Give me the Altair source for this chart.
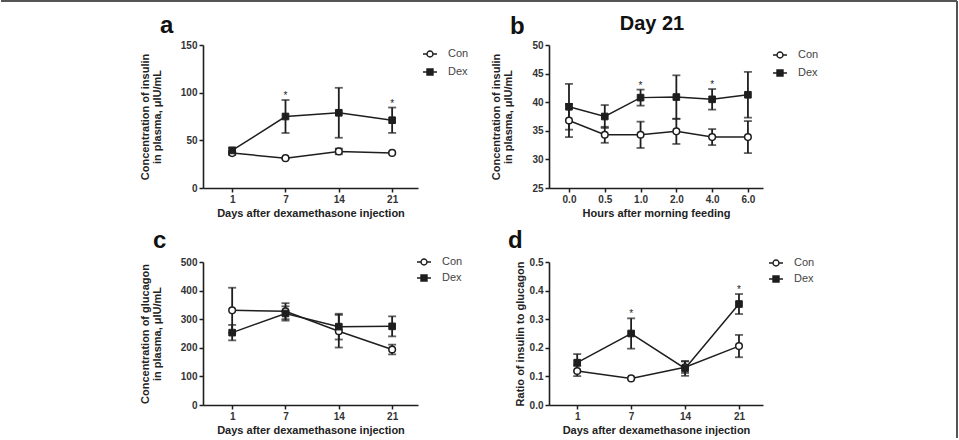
import altair as alt
import pandas as pd

INK = "#1e1e1e"
FONT = "Liberation Sans"

days = ["1", "7", "14", "21"]
hours = ["0.0", "0.5", "1.0", "2.0", "4.0", "6.0"]
groups = ["Con", "Dex"]

# (a) plasma insulin, µIU/mL, by day after injection (mean, SEM)
ins_con = [36.6, 31.3, 38.4, 36.8]
ins_con_sem = [2.0, 0.6, 3.0, 0.8]
ins_dex = [39.4, 75.0, 78.9, 71.1]
ins_dex_sem = [3.0, 17.3, 26.2, 13.3]
ins_sig = [False, True, False, True]

# (b) plasma insulin on day 21, by hour after morning feeding
day21_con = [36.8, 34.3, 34.3, 34.9, 33.9, 33.9]
day21_con_sem = [2.9, 1.4, 2.3, 2.2, 1.4, 2.8]
day21_dex = [39.2, 37.5, 40.8, 40.9, 40.5, 41.3]
day21_dex_sem = [4.0, 2.0, 1.4, 3.8, 1.8, 4.0]
day21_sig = [False, False, True, False, True, False]

# (c) plasma glucagon by day
glu_con = [331, 328, 258, 194]
glu_con_sem = [79, 28, 57, 17]
glu_dex = [253, 320, 274, 275]
glu_dex_sem = [27, 25, 45, 35]
glu_sig = [False, False, False, False]

# (d) insulin / glucagon ratio by day
ratio_con = [0.119, 0.093, 0.132, 0.206]
ratio_con_sem = [0.018, 0.003, 0.02, 0.039]
ratio_dex = [0.148, 0.250, 0.128, 0.353]
ratio_dex_sem = [0.030, 0.053, 0.026, 0.035]
ratio_sig = [False, True, False, True]

# legend keys: a short line with the group's marker in the middle
CON_KEY = "M-1,0H-0.43M0.43,0H1M-0.43,0A0.43,0.43 0 1,1 0.43,0A0.43,0.43 0 1,1 -0.43,0Z"
DEX_KEY = "M-1,0H-0.43M0.43,0H1M-0.43,-0.43H0.43V0.43H-0.43Z"


def table(xs, con_m, con_s, dex_m, dex_s, sig):
    rows = []
    for g, m, s in (("Con", con_m, con_s), ("Dex", dex_m, dex_s)):
        for i, x in enumerate(xs):
            rows.append(dict(x=x, group=g, mean=m[i], lo=m[i] - s[i], hi=m[i] + s[i],
                             sig=bool(sig[i]) and g == "Dex"))
    return pd.DataFrame(rows)


def label(text, x, y, size, align="left"):
    return alt.Chart(pd.DataFrame({"t": [text]})).mark_text(
        font=FONT, fontSize=size, fontWeight="bold", align=align, baseline="alphabetic",
        color="#111").encode(text="t:N", x=alt.value(x), y=alt.value(y))


def panel(df, xs, width, height, pad, align, ydom, yvals, yfmt, ytitle, ytpad,
          xtitle, leg_x, leg_y, row_pad, letter, letter_x, letter_y, extra=()):
    xscale = alt.Scale(type="point", padding=pad, align=align)
    xaxis = alt.Axis(title=xtitle, labelAngle=0, titlePadding=3)
    yscale = alt.Scale(domain=ydom, nice=False, zero=False)
    yaxis = alt.Axis(title=ytitle, values=yvals, format=yfmt, titlePadding=ytpad,
                     titleLineHeight=12)
    X = alt.X("x:O", sort=xs, scale=xscale, axis=xaxis)

    def Y(f):
        return alt.Y(f + ":Q", scale=yscale, axis=yaxis)

    base = alt.Chart(df)
    line = base.mark_line(color=INK, strokeWidth=1.5).encode(
        x=X, y=Y("mean"), detail="group:N")
    bars = base.mark_rule(color=INK, strokeWidth=1.8).encode(x=X, y=Y("lo"), y2="hi:Q")
    cap_lo = base.mark_tick(orient="horizontal", size=8, thickness=1.8, color=INK).encode(
        x=X, y=Y("lo"))
    cap_hi = base.mark_tick(orient="horizontal", size=8, thickness=1.8, color=INK).encode(
        x=X, y=Y("hi"))
    con = base.transform_filter(alt.datum.group == "Con").mark_point(
        shape="circle", filled=True, fill="white", stroke=INK, strokeWidth=1.5,
        size=44, opacity=1).encode(x=X, y=Y("mean"))
    dex = base.transform_filter(alt.datum.group == "Dex").mark_point(
        shape="square", filled=True, fill=INK, stroke=INK, strokeWidth=1,
        size=44, opacity=1).encode(x=X, y=Y("mean"))
    stars = base.transform_filter(alt.datum.sig).mark_text(
        text="*", font=FONT, fontSize=10, dy=-1, baseline="alphabetic", color=INK
    ).encode(x=X, y=Y("hi"))

    leg = alt.Legend(title=None, orient="none", legendX=leg_x, legendY=leg_y,
                     rowPadding=row_pad, symbolSize=196, labelOffset=10,
                     labelFont=FONT, labelFontSize=11, labelColor="#444",
                     padding=0, symbolStrokeWidth=1.4)
    key = base.transform_filter("false").mark_point(
        filled=True, strokeWidth=1.4, opacity=1).encode(
        shape=alt.Shape("group:N", scale=alt.Scale(domain=groups, range=[CON_KEY, DEX_KEY]),
                        legend=leg),
        fill=alt.Fill("group:N", scale=alt.Scale(domain=groups, range=["white", INK]),
                      legend=leg),
        stroke=alt.Stroke("group:N", scale=alt.Scale(domain=groups, range=[INK, INK]),
                          legend=leg),
    )
    tag = label(letter, letter_x, letter_y, 24)

    return alt.layer(line, bars, cap_lo, cap_hi, con, dex, stars, key, tag, *extra).properties(
        width=width, height=height)


one = pd.DataFrame({"k": [0]})
border_top = alt.Chart(one).mark_rule(color="#555", strokeWidth=2).encode(
    x=alt.value(-202), x2=alt.value(754), y=alt.value(-44))
border_right = alt.Chart(one).mark_rule(color="#555", strokeWidth=2).encode(
    x=alt.value(754), y=alt.value(-44), y2=alt.value(393))

DAYS_TITLE = "Days after dexamethasone injection"

pa = panel(table(days, ins_con, ins_con_sem, ins_dex, ins_dex_sem, ins_sig), days,
           215, 143, 0.516, 0.53, [0, 150], [0, 50, 100, 150], "d",
           ["Concentration of insulin", "in plasma, μIU/mL"], 18, DAYS_TITLE,
           219, 1, 4, "a", -43, -12, extra=(border_top, border_right))

pb = panel(table(hours, day21_con, day21_con_sem, day21_dex, day21_dex_sem, day21_sig), hours,
           214, 143, 0.49, 0.57, [25, 50], [25, 30, 35, 40, 45, 50], "d",
           ["Concentration of insulin", "in plasma, μIU/mL"], 18,
           "Hours after morning feeding", 223, 2, 4, "b", -39, -11,
           extra=(label("Day 21", 103, -15, 20, align="center"),))

pc = panel(table(days, glu_con, glu_con_sem, glu_dex, glu_dex_sem, glu_sig), days,
           215, 143, 0.516, 0.53, [0, 500], [0, 100, 200, 300, 400, 500], "d",
           ["Concentration of glucagon", "in plasma, μIU/mL"], 18, DAYS_TITLE,
           213, -8, 2, "c", -50, -14)

pd_ = panel(table(days, ratio_con, ratio_con_sem, ratio_dex, ratio_dex_sem, ratio_sig), days,
            214, 143, 0.484, 0.54, [0, 0.5], [0, 0.1, 0.2, 0.3, 0.4, 0.5], ".1f",
            "Ratio of insulin to glucagon", 4, DAYS_TITLE,
            219, -7, 2, "d", -41, -14)

chart = alt.concat(pa, pb, pc, pd_, columns=2, spacing={"row": 74, "column": 131},
                   bounds="flush", padding=0).resolve_scale(
    shape="independent", fill="independent", stroke="independent").resolve_legend(
    shape="independent", fill="independent", stroke="independent").configure(
    font=FONT).configure_view(stroke=None).configure_axis(
    domainColor=INK, domainWidth=1.6, tickColor=INK, tickWidth=1.5, tickSize=4,
    labelFont=FONT, labelFontSize=10, labelFontWeight="bold", labelColor="#333",
    labelPadding=2, titleFont=FONT, titleFontSize=11, titleFontWeight="bold",
    titleColor="#222", grid=False)

chart.save("out.html", embed_options={"renderer": "svg", "actions": False})
